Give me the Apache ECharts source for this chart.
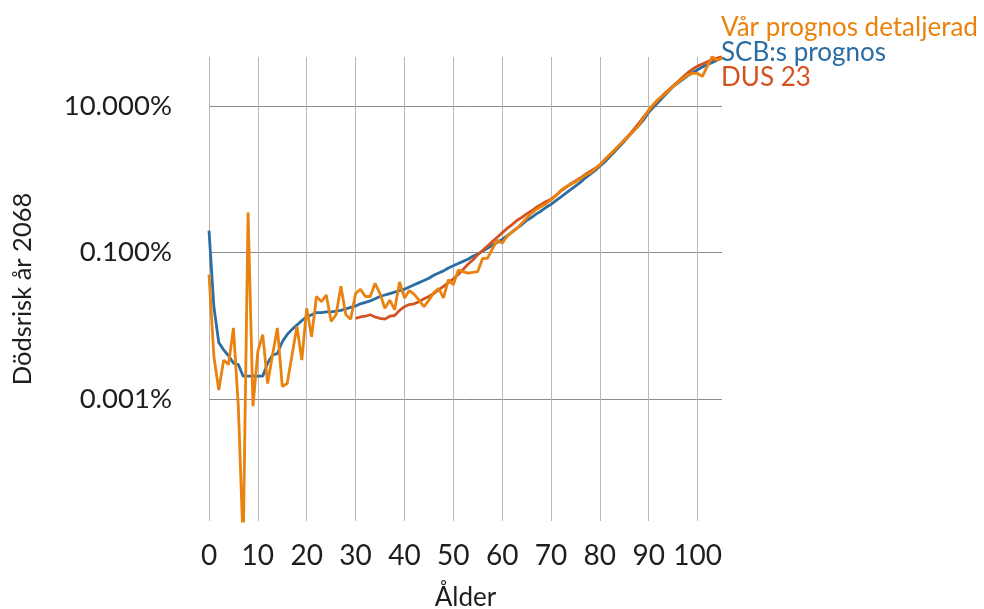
<!DOCTYPE html>
<html>
<head>
<meta charset="utf-8">
<script src="https://cdn.jsdelivr.net/npm/echarts@6/dist/echarts.min.js"></script>
<style>
  html, body { margin: 0; padding: 0; background: #ffffff; }
  #chart { width: 984px; height: 609px; }
</style>
</head>
<body>
<div id="chart"></div>
<script>
// Ages (x axis)
const ages = [
  0,1,2,3,4,5,6,7,8,9,10,11,12,13,14,15,16,17,18,19,
  20,21,22,23,24,25,26,27,28,29,30,31,32,33,34,35,36,37,38,39,
  40,41,42,43,44,45,46,47,48,49,50,51,52,53,54,55,56,57,58,59,
  60,61,62,63,64,65,66,67,68,69,70,71,72,73,74,75,76,77,78,79,
  80,81,82,83,84,85,86,87,88,89,90,91,92,93,94,95,96,97,98,99,
  100,101,102,103,104,105
];
const dusAges = [
  30,31,32,33,34,35,36,37,38,39,
  40,41,42,43,44,45,46,47,48,49,50,51,52,53,54,55,56,57,58,59,
  60,61,62,63,64,65,66,67,68,69,70,71,72,73,74,75,76,77,78,79,
  80,81,82,83,84,85,86,87,88,89,90,91,92,93,94,95,96,97,98,99,
  100,101,102,103,104,105
];

// Death risk in 2068, stored as log10 of the yearly risk (fraction)
const varPrognosLog10 = [
  -3.30,-4.42,-4.88,-4.47,-4.53,-4.03,-5.10,-7.00,-2.45,-5.10,
  -4.35,-4.12,-4.79,-4.40,-4.03,-4.83,-4.79,-4.40,-4.01,-4.47,
  -3.76,-4.15,-3.60,-3.67,-3.58,-3.94,-3.85,-3.46,-3.85,-3.91,
  -3.56,-3.50,-3.60,-3.60,-3.42,-3.56,-3.76,-3.65,-3.78,-3.40,
  -3.62,-3.52,-3.57,-3.65,-3.74,-3.65,-3.55,-3.49,-3.62,-3.37,
  -3.44,-3.24,-3.26,-3.28,-3.27,-3.26,-3.08,-3.08,-2.95,-2.83,
  -2.87,-2.78,-2.72,-2.67,-2.60,-2.53,-2.46,-2.41,-2.37,-2.33,
  -2.28,-2.22,-2.15,-2.10,-2.07,-2.03,-1.99,-1.94,-1.91,-1.86,
  -1.80,-1.73,-1.66,-1.60,-1.53,-1.47,-1.40,-1.33,-1.26,-1.15,
  -1.05,-0.97,-0.90,-0.85,-0.79,-0.73,-0.67,-0.62,-0.57,-0.55,
  -0.55,-0.59,-0.45,-0.32,-0.37,-0.34
];
const scbPrognosLog10 = [
  -2.70,-3.74,-4.23,-4.33,-4.41,-4.51,-4.53,-4.69,-4.69,-4.69,
  -4.69,-4.69,-4.51,-4.40,-4.38,-4.22,-4.12,-4.05,-3.99,-3.93,
  -3.88,-3.85,-3.82,-3.82,-3.81,-3.81,-3.80,-3.79,-3.77,-3.75,
  -3.73,-3.70,-3.68,-3.66,-3.63,-3.60,-3.58,-3.56,-3.54,-3.52,
  -3.50,-3.47,-3.44,-3.41,-3.38,-3.35,-3.31,-3.28,-3.25,-3.21,
  -3.18,-3.15,-3.12,-3.09,-3.05,-3.02,-2.98,-2.94,-2.90,-2.86,
  -2.82,-2.77,-2.72,-2.67,-2.62,-2.56,-2.52,-2.47,-2.43,-2.38,
  -2.34,-2.29,-2.24,-2.19,-2.14,-2.09,-2.04,-1.98,-1.93,-1.88,
  -1.82,-1.76,-1.69,-1.62,-1.55,-1.48,-1.40,-1.33,-1.26,-1.18,
  -1.08,-1.01,-0.94,-0.87,-0.80,-0.73,-0.68,-0.63,-0.58,-0.54,
  -0.50,-0.46,-0.43,-0.40,-0.37,-0.34
];
const dus23Log10 = [
  -3.90,-3.88,-3.87,-3.85,-3.88,-3.90,-3.91,-3.87,-3.86,-3.79,
  -3.74,-3.71,-3.70,-3.67,-3.63,-3.60,-3.56,-3.51,-3.46,-3.41,
  -3.36,-3.30,-3.23,-3.16,-3.10,-3.03,-2.97,-2.91,-2.85,-2.79,
  -2.73,-2.67,-2.62,-2.56,-2.52,-2.47,-2.43,-2.38,-2.34,-2.30,
  -2.27,-2.22,-2.16,-2.11,-2.06,-2.02,-1.98,-1.93,-1.89,-1.85,
  -1.80,-1.73,-1.67,-1.60,-1.53,-1.46,-1.39,-1.31,-1.23,-1.14,
  -1.06,-0.98,-0.91,-0.84,-0.78,-0.72,-0.66,-0.60,-0.54,-0.49,
  -0.45,-0.42,-0.39,-0.36,-0.34,-0.32
];

// Axis ticks
const xTicks = [0, 10, 20, 30, 40, 50, 60, 70, 80, 90, 100];
const yTicksLog10 = [-5, -3, -1]; // 0.001%, 0.100%, 10.000%

const seriesNames = ['Vår prognos detaljerad', 'SCB:s prognos', 'DUS 23'];
const colors = { var: '#E9820E', scb: '#2B6DA3', dus: '#D2531F' };

function pairs(xs, ys) { return xs.map((x, i) => [x, ys[i]]); }

const FONT = 'Lato';
const LEGEND_FS = 26;
const legendText = c => ({ color: c, fontSize: LEGEND_FS, fontFamily: FONT, lineHeight: 24 });
const chart = echarts.init(document.getElementById('chart'), null, { renderer: 'canvas' });
chart.setOption({
  animation: false,
  backgroundColor: '#ffffff',
  textStyle: { fontFamily: FONT },
  legend: {
    orient: 'vertical',
    left: 711,
    top: 10,
    itemWidth: 0,
    itemHeight: 0,
    itemGap: -1,
    icon: 'rect',
    selectedMode: false,
    data: [
      { name: seriesNames[0], textStyle: legendText(colors.var) },
      { name: seriesNames[1], textStyle: legendText(colors.scb) },
      { name: seriesNames[2], textStyle: legendText(colors.dus) }
    ],
    textStyle: { fontFamily: FONT, fontSize: LEGEND_FS, lineHeight: 24, padding: 0 }
  },
  grid: { left: 209, right: 262, top: 57, bottom: 88, containLabel: false, outerBoundsMode: 'none' },
  xAxis: {
    type: 'value',
    min: 0,
    max: 105,
    name: 'Ålder',
    nameLocation: 'middle',
    nameGap: 64,
    nameTextStyle: { fontFamily: FONT, fontSize: 26, color: '#1e1e1e' },
    axisLine: { show: false },
    axisTick: { show: false, customValues: xTicks },
    axisLabel: { customValues: xTicks, fontFamily: FONT, fontSize: 28, color: '#1e1e1e', margin: 21 },
    splitLine: { show: true, lineStyle: { color: '#bcb5b0', width: 1 } }
  },
  yAxis: {
    type: 'value',
    min: -6.67,
    max: -0.325,
    name: 'Dödsrisk år 2068',
    nameLocation: 'middle',
    nameGap: 173,
    nameTextStyle: { fontFamily: FONT, fontSize: 25.5, color: '#1e1e1e' },
    axisLine: { show: false },
    axisTick: { show: false, customValues: yTicksLog10 },
    axisLabel: {
      customValues: yTicksLog10,
      fontFamily: FONT, fontSize: 27.5, color: '#1e1e1e', margin: 37,
      formatter: v => (Math.pow(10, v) * 100).toFixed(3) + '%'
    },
    splitLine: { show: true, lineStyle: { color: '#8f8a87', width: 1 } }
  },
  series: [
    {
      name: seriesNames[1], type: 'line', data: pairs(ages, scbPrognosLog10),
      showSymbol: false, symbol: 'none', clip: true,
      lineStyle: { color: colors.scb, width: 2.8 }, itemStyle: { color: colors.scb }, z: 2
    },
    {
      name: seriesNames[2], type: 'line', data: pairs(dusAges, dus23Log10),
      showSymbol: false, symbol: 'none', clip: true,
      lineStyle: { color: colors.dus, width: 2.8 }, itemStyle: { color: colors.dus }, z: 3
    },
    {
      name: seriesNames[0], type: 'line', data: pairs(ages, varPrognosLog10),
      showSymbol: false, symbol: 'none', clip: true,
      lineStyle: { color: colors.var, width: 2.8 }, itemStyle: { color: colors.var }, z: 4
    }
  ]
});
</script>
</body>
</html>
